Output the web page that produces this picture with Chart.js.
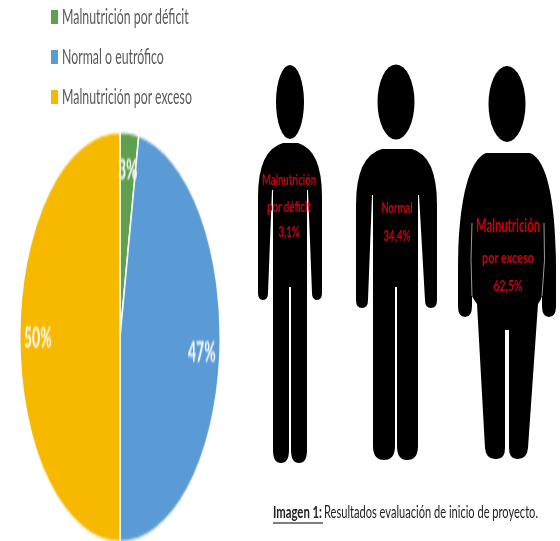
<!DOCTYPE html>
<html>
<head>
<meta charset="utf-8">
<script src="https://cdn.jsdelivr.net/npm/chart.js@4"></script>
<style>
  html, body { margin: 0; padding: 0; background: #fff; }
  #page { position: relative; width: 560px; height: 541px; overflow: hidden; font-family: Lato, sans-serif; }
  #pieBox { position: absolute; left: 19px; top: 130px; width: 202px; height: 202px; transform: scaleY(2.05); transform-origin: top left; filter: blur(0.4px); }
  #legend { position: absolute; left: 0; top: 0; filter: blur(0.6px); }
  .item { position: absolute; left: 51px; white-space: nowrap; }
  .box { position: absolute; left: 0; top: 0; width: 7px; height: 14px; }
  .txt { position: absolute; left: 11px; top: -2px; font-size: 14px; line-height: 18px; color: #595959; transform: scale(0.88, 1.45); transform-origin: left center; }
  #figures { position: absolute; left: 0; top: 0; filter: blur(0.7px); }
</style>
</head>
<body>
<div id="page">
  <div id="legend"></div>
  <div id="pieBox"><canvas id="pie" width="202" height="202"></canvas></div>

  <svg id="figures" width="560" height="541" viewBox="0 0 560 541">
    <!-- persona 1 -->
    <ellipse cx="290" cy="102" rx="14" ry="37" fill="#000"/>
    <path fill="#000" d="M283 143 H298 Q322 150 322 197 V293 Q322 300 317 300 Q312 300 312 293 L308 190 H307 V450 Q307 463 299 463 Q291 463 291 450 V287 H289 V450 Q289 463 281 463 Q273 463 273 450 V190 H272 L268 293 Q268 300 263 300 Q258 300 258 293 V197 Q258 150 283 143 Z"/>
    <!-- persona 2 -->
    <ellipse cx="396" cy="102" rx="18.5" ry="37.5" fill="#000"/>
    <path fill="#000" d="M382 149 H412 Q437 156 437 205 V300 Q437 308 431 308 Q425 308 425 300 L419 195 H418 V446 Q418 460 407 460 Q397 460 397 446 V287 H395 V446 Q395 460 384 460 Q373 460 373 446 V195 H372 L368 300 Q368 308 362 308 Q356 308 356 300 V205 Q356 156 382 149 Z"/>
    <!-- persona 3 -->
    <ellipse cx="507" cy="104" rx="18.5" ry="38" fill="#000"/>
    <path fill="#000" d="M486 153 H530 C548 160 556 205 556 270 V306 Q556 317 549 317 Q542 317 542 306 V296 Q541 300 538 304 L528 448 Q527 459 518 459 H517 Q509 459 509 448 V330 H505 V448 Q505 459 497 459 H495 Q486 459 485 448 L477 304 Q474 300 472 296 V306 Q472 317 465 317 Q458 317 458 306 V270 C458 205 468 160 486 153 Z"/>
    <path fill="none" stroke="#9a9a9a" stroke-width="1" d="M472 223 Q470 260 472 296 M544 223 Q546 260 542 296"/>

    <g fill="#c8000e" font-family="Lato, sans-serif" font-weight="700" text-anchor="middle">
      <text x="289" y="185" font-size="15" textLength="54" lengthAdjust="spacingAndGlyphs">Malnutrición</text>
      <text x="289" y="212" font-size="15" textLength="44" lengthAdjust="spacingAndGlyphs">por déficit</text>
      <text x="289" y="237" font-size="15" textLength="21" lengthAdjust="spacingAndGlyphs">3,1%</text>
      <text x="397" y="213" font-size="15" textLength="31" lengthAdjust="spacingAndGlyphs">Normal</text>
      <text x="397" y="241" font-size="15" textLength="27" lengthAdjust="spacingAndGlyphs">34,4%</text>
      <text x="508" y="232" font-size="18" textLength="64" lengthAdjust="spacingAndGlyphs">Malnutrición</text>
      <text x="508" y="263" font-size="16" textLength="52" lengthAdjust="spacingAndGlyphs">por exceso</text>
      <text x="508" y="291" font-size="16" textLength="29" lengthAdjust="spacingAndGlyphs">62,5%</text>
    </g>

    <text x="273" y="518" font-family="Lato, sans-serif" font-size="17" font-weight="700" fill="#222" textLength="49" lengthAdjust="spacingAndGlyphs">Imagen 1:</text>
    <text x="324" y="518" font-family="Lato, sans-serif" font-size="17" fill="#222" textLength="214" lengthAdjust="spacingAndGlyphs">Resultados evaluación de inicio de proyecto.</text>
    <line x1="273" y1="523" x2="323" y2="523" stroke="#555" stroke-width="1.5"/>
  </svg>
</div>

<script>
const categories = ['Malnutrición por déficit', 'Normal o eutrófico', 'Malnutrición por exceso']
const percents = [3, 47, 50]
const sliceColors = ['#5fa04e', '#5b9bd5', '#f7b800']
const legendTops = [10, 50, 90]

// leyenda en html porque va alineada a la izquierda y estirada en vertical
const legend = document.getElementById('legend')
categories.forEach((name, i) => {
    const item = document.createElement('div')
    item.className = 'item'
    item.style.top = legendTops[i] + 'px'
    item.innerHTML = '<span class="box" style="background:' + sliceColors[i] + '"></span><span class="txt">' + name + '</span>'
    legend.appendChild(item)
})

// etiquetas de porcentaje dentro de cada porcion
const sliceLabels = {
    id: 'sliceLabels',
    afterDatasetsDraw(chart) {
        const ctx = chart.ctx
        const arcs = chart.getDatasetMeta(0).data
        ctx.save()
        ctx.fillStyle = '#fff'
        ctx.font = 'bold 14px Lato, sans-serif'
        ctx.textAlign = 'center'
        ctx.textBaseline = 'middle'
        arcs.forEach((arc, i) => {
            const mid = (arc.startAngle + arc.endAngle) / 2
            const dist = arc.outerRadius * 0.82
            ctx.fillText(percents[i] + '%', arc.x + Math.cos(mid) * dist, arc.y + Math.sin(mid) * dist)
        })
        ctx.restore()
    }
}

new Chart('pie', {
    type: 'pie',
    data: {
        labels: categories,
        datasets: [{
            data: percents,
            backgroundColor: sliceColors,
            borderColor: '#ffffff',
            borderWidth: 1.5
        }]
    },
    options: {
        responsive: false,
        animation: false,
        layout: { padding: 0 },
        plugins: {
            legend: { display: false },
            tooltip: { enabled: false }
        }
    },
    plugins: [sliceLabels]
})
</script>
</body>
</html>
